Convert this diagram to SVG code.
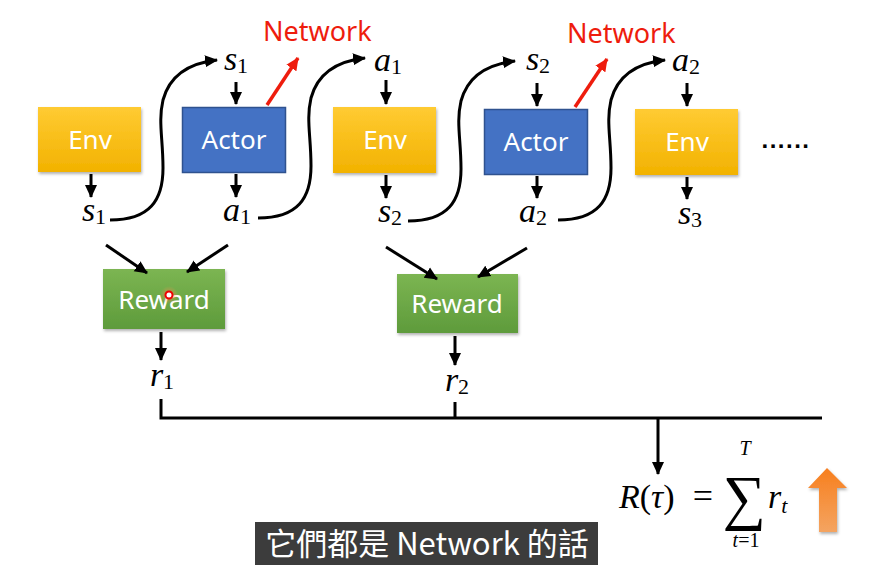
<svg xmlns="http://www.w3.org/2000/svg" width="884" height="565" viewBox="0 0 884 565">
<defs>
<style>
.box{font-family:"Noto Sans","Open Sans",sans-serif;font-size:26px;fill:#fff;text-anchor:middle}
.m{font-family:"Liberation Serif","DejaVu Serif",serif;font-style:italic;font-size:34px;fill:#000;text-anchor:middle}
.sub{font-style:normal;font-size:22px}
.ln{stroke:#000;stroke-width:3;fill:none}
.red{font-family:"Noto Sans","Open Sans",sans-serif;font-size:27px;fill:#ee1c0d}
</style>
<marker id="ah" markerUnits="userSpaceOnUse" markerWidth="14" markerHeight="14" viewBox="0 0 14 14" refX="12" refY="7" orient="auto">
<path d="M0,1 L13,7 L0,13 z" fill="#000"/>
</marker>
<marker id="ahr" markerUnits="userSpaceOnUse" markerWidth="14" markerHeight="14" viewBox="0 0 14 14" refX="12" refY="7" orient="auto">
<path d="M0,1 L13,7 L0,13 z" fill="#ee1c0d"/>
</marker>
<linearGradient id="gold" x1="0" y1="0" x2="0" y2="1">
<stop offset="0" stop-color="#FFCB33"/><stop offset="1" stop-color="#F2B200"/>
</linearGradient>
<linearGradient id="green" x1="0" y1="0" x2="0" y2="1">
<stop offset="0" stop-color="#7CB552"/><stop offset="1" stop-color="#5E9B3B"/>
</linearGradient>
<linearGradient id="orange" x1="0" y1="0" x2="0" y2="1">
<stop offset="0" stop-color="#F77F1E"/><stop offset="1" stop-color="#F4A461"/>
</linearGradient>
<filter id="sh" x="-10%" y="-10%" width="125%" height="130%">
<feDropShadow dx="1" dy="2" stdDeviation="1.5" flood-color="#000" flood-opacity="0.3"/>
</filter>
<radialGradient id="glow"><stop offset="0" stop-color="#ff6a3a" stop-opacity="0.7"/><stop offset="1" stop-color="#ff9a5a" stop-opacity="0"/></radialGradient>
</defs>
<rect width="884" height="565" fill="#fff"/>

<g id="env1"><rect x="38" y="107" width="103" height="65" fill="url(#gold)" filter="url(#sh)"/><text class="box" x="90" y="149">Env</text></g>
<g id="actor1"><rect x="182.5" y="107.5" width="103" height="65" fill="#4472C4" stroke="#2F528F" stroke-width="1.5"/><text class="box" x="234" y="149">Actor</text></g>
<g id="env2"><rect x="333" y="107" width="103" height="66" fill="url(#gold)" filter="url(#sh)"/><text class="box" x="385" y="149">Env</text></g>
<g id="actor2"><rect x="484.5" y="109.5" width="103" height="65" fill="#4472C4" stroke="#2F528F" stroke-width="1.5"/><text class="box" x="536" y="151">Actor</text></g>
<g id="env3"><rect x="635" y="109" width="103" height="66" fill="url(#gold)" filter="url(#sh)"/><text class="box" x="687" y="151">Env</text></g>
<g id="dots"><text x="786" y="148" font-family="Liberation Sans,sans-serif" font-size="24" font-weight="bold" text-anchor="middle" letter-spacing="1.5">......</text></g>

<g id="reward1"><rect x="103" y="269" width="122" height="60" fill="url(#green)" filter="url(#sh)"/><text class="box" x="164" y="309">Reward</text>
<circle cx="169" cy="295" r="9" fill="url(#glow)"/><circle cx="169" cy="295" r="3.5" fill="#fff" stroke="#e00" stroke-width="2"/></g>
<g id="reward2"><rect x="397" y="274" width="121" height="59" fill="url(#green)" filter="url(#sh)"/><text class="box" x="457" y="313">Reward</text></g>

<g id="labels">
<text class="m" x="236" y="70">s<tspan class="sub" dy="3">1</tspan></text>
<text class="m" x="388" y="71">a<tspan class="sub" dy="3">1</tspan></text>
<text class="m" x="538" y="70">s<tspan class="sub" dy="3">2</tspan></text>
<text class="m" x="686" y="71">a<tspan class="sub" dy="3">2</tspan></text>
<text class="m" x="94" y="221">s<tspan class="sub" dy="3">1</tspan></text>
<text class="m" x="237" y="221">a<tspan class="sub" dy="3">1</tspan></text>
<text class="m" x="390" y="222">s<tspan class="sub" dy="3">2</tspan></text>
<text class="m" x="533" y="222">a<tspan class="sub" dy="3">2</tspan></text>
<text class="m" x="690" y="224">s<tspan class="sub" dy="3">3</tspan></text>
<text class="m" x="162" y="386">r<tspan class="sub" dy="3">1</tspan></text>
<text class="m" x="457" y="391">r<tspan class="sub" dy="3">2</tspan></text>
</g>

<g id="network1"><text class="red" x="263" y="41">Network</text></g>
<g id="network2"><text class="red" x="567" y="43">Network</text></g>

<g id="connectors">
<line class="ln" x1="91" y1="174" x2="91" y2="197" marker-end="url(#ah)"/>
<line class="ln" x1="236" y1="174" x2="236" y2="197" marker-end="url(#ah)"/>
<line class="ln" x1="386" y1="175" x2="386" y2="198" marker-end="url(#ah)"/>
<line class="ln" x1="537" y1="176" x2="537" y2="198" marker-end="url(#ah)"/>
<line class="ln" x1="687" y1="177" x2="687" y2="199" marker-end="url(#ah)"/>
<line class="ln" x1="236" y1="82" x2="236" y2="104" marker-end="url(#ah)"/>
<line class="ln" x1="386" y1="80" x2="386" y2="104" marker-end="url(#ah)"/>
<line class="ln" x1="537" y1="83" x2="537" y2="106" marker-end="url(#ah)"/>
<line class="ln" x1="687" y1="83" x2="687" y2="106" marker-end="url(#ah)"/>
<path class="ln" stroke-width="3.5" d="M110,220 C150,220 163,200 163,168 C163,138 158,122 163,100 C170,74 190,63 217,60" marker-end="url(#ah)"/>
<path class="ln" stroke-width="3.5" transform="translate(148,-2)" d="M110,220 C150,220 163,200 163,168 C163,138 158,122 163,100 C170,74 190,63 217,60" marker-end="url(#ah)"/>
<path class="ln" stroke-width="3.5" transform="translate(298,1)" d="M110,220 C150,220 163,200 163,168 C163,138 158,122 163,100 C170,74 190,63 217,60" marker-end="url(#ah)"/>
<path class="ln" stroke-width="3.5" transform="translate(448,0)" d="M110,220 C150,220 163,200 163,168 C163,138 158,122 163,100 C170,74 190,63 217,60" marker-end="url(#ah)"/>
<line x1="267" y1="105" x2="298" y2="58" stroke="#ee1c0d" stroke-width="3.5" marker-end="url(#ahr)"/>
<line x1="575" y1="107" x2="607" y2="59" stroke="#ee1c0d" stroke-width="3.5" marker-end="url(#ahr)"/>
<line class="ln" x1="106" y1="245" x2="147" y2="273" marker-end="url(#ah)"/>
<line class="ln" x1="228" y1="245" x2="187" y2="272" marker-end="url(#ah)"/>
<line class="ln" x1="386" y1="247" x2="437" y2="279" marker-end="url(#ah)"/>
<line class="ln" x1="527" y1="248" x2="478" y2="277" marker-end="url(#ah)"/>
<line class="ln" x1="161" y1="332" x2="161" y2="360" marker-end="url(#ah)"/>
<line class="ln" x1="455" y1="336" x2="455" y2="365" marker-end="url(#ah)"/>
<path class="ln" stroke-width="4" d="M161,399 V418 H822 M455,402 V418"/>
<line class="ln" x1="658" y1="418" x2="658" y2="474" marker-end="url(#ah)"/>
</g>

<g id="formula" font-family="Liberation Serif,DejaVu Serif,serif">
<text x="619" y="508" font-size="34" font-style="italic">R<tspan font-style="normal">(</tspan>τ<tspan font-style="normal">)</tspan></text>
<text x="703" y="508" font-size="36" text-anchor="middle">=</text>
<text x="744" y="518" font-size="56" text-anchor="middle" transform="translate(744,518) scale(1.08,1.1) translate(-744,-518)">∑</text>
<text x="745" y="455" font-size="20" font-style="italic" text-anchor="middle">T</text>
<text x="746" y="547" font-size="20" text-anchor="middle"><tspan font-style="italic">t</tspan>=1</text>
<text x="768" y="508" font-size="34" font-style="italic">r<tspan font-size="22" dy="5">t</tspan></text>
</g>
<g id="uparrow"><path d="M827,468 L847,488 L837,488 L837,532 L819,532 L819,488 L808,488 z" fill="url(#orange)" filter="url(#sh)"/></g>

<g id="subtitle"><rect x="255" y="522" width="343" height="43" fill="#3c3c3c"/>
<text x="427" y="555" font-family="Noto Sans CJK TC,Noto Sans,sans-serif" font-size="31" fill="#fff" text-anchor="middle">它們都是 Network 的話</text></g>
</svg>
